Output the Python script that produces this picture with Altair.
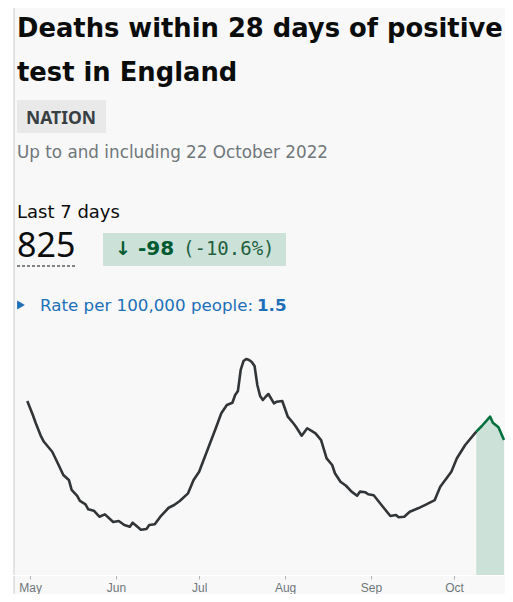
import altair as alt
import pandas as pd

# ---------------- data ----------------
dates = [
    "2022-04-30", "2022-05-02", "2022-05-03", "2022-05-05", "2022-05-06", "2022-05-09",
    "2022-05-11", "2022-05-13", "2022-05-15", "2022-05-16", "2022-05-18", "2022-05-19",
    "2022-05-21", "2022-05-22", "2022-05-24", "2022-05-26", "2022-05-28", "2022-05-31",
    "2022-06-02", "2022-06-04", "2022-06-06", "2022-06-07", "2022-06-08", "2022-06-10",
    "2022-06-12", "2022-06-13", "2022-06-15", "2022-06-17", "2022-06-20", "2022-06-22",
    "2022-06-24", "2022-06-27", "2022-06-29", "2022-07-01", "2022-07-04", "2022-07-07",
    "2022-07-09", "2022-07-11", "2022-07-13", "2022-07-14", "2022-07-15", "2022-07-16",
    "2022-07-17", "2022-07-18", "2022-07-19", "2022-07-20", "2022-07-21", "2022-07-22",
    "2022-07-23", "2022-07-24", "2022-07-25", "2022-07-26", "2022-07-28", "2022-07-29",
    "2022-07-31", "2022-08-02", "2022-08-04", "2022-08-05", "2022-08-07", "2022-08-09",
    "2022-08-11", "2022-08-12", "2022-08-14", "2022-08-16", "2022-08-18", "2022-08-19",
    "2022-08-21", "2022-08-23", "2022-08-25", "2022-08-27", "2022-08-28", "2022-08-30",
    "2022-08-31", "2022-09-02", "2022-09-05", "2022-09-08", "2022-09-10", "2022-09-11",
    "2022-09-13", "2022-09-15", "2022-09-18", "2022-09-21", "2022-09-24", "2022-09-26",
    "2022-09-30", "2022-10-02", "2022-10-05", "2022-10-09", "2022-10-11", "2022-10-14",
    "2022-10-15", "2022-10-17", "2022-10-19",
]
deaths = [
    153.4, 141.1, 134.3, 122.0, 117.5, 108.7,
    98.5, 88.2, 83.8, 75.0, 69.7, 65.3,
    62.3, 57.9, 56.7, 51.4, 53.5, 46.7,
    47.6, 44.1, 42.6, 46.1, 44.1, 39.9,
    40.6, 44.1, 44.7, 51.4, 59.3, 61.7,
    65.3, 72.0, 83.8, 91.1, 110.2, 129.4,
    142.6, 149.9, 151.9, 158.7, 162.3, 180.8,
    188.7, 190.5, 189.6, 187.8, 184.3, 167.5,
    157.8, 154.3, 157.2, 159.6, 151.4, 152.8,
    153.4, 139.6, 133.8, 130.5, 122.8, 129.4,
    126.4, 124.9, 119.0, 102.9, 97.0, 89.7,
    82.3, 78.7, 73.5, 69.9, 73.5, 72.9,
    71.2, 70.3, 61.1, 52.0, 52.9, 50.9,
    51.4, 55.8, 58.8, 62.3, 66.1, 77.9,
    91.1, 102.9, 114.6, 126.4, 131.4, 139.6,
    134.3, 130.2, 119.0,
]
recent_start = "2022-10-09"

month_ticks = [5, 6, 7, 8, 9, 10]

title_lines = ["Deaths within 28 days of positive", "test in England"]
badge_text = ["NATION"]
subtitle_text = ["Up to and including 22 October 2022"]
period_text = ["Last 7 days"]
total_text = ["825"]
change_arrow = ["\u2193"]
change_value = ["-98"]
change_pct = ["(-10.6%)"]
rate_label = ["Rate per 100,000 people:"]
rate_value = ["1.5"]

# ---------------- build ----------------
df = pd.DataFrame({"date": dates, "deaths": deaths})
df_main = df[df["date"] <= recent_start]
df_recent = df[df["date"] >= recent_start]

W, H = 497, 567
TOTAL_H = 586
NOTO = "Noto Sans"
DJV = "DejaVu Sans"


def one(text):
    return pd.DataFrame({"t": text})


def txt(text, x, y, size, color, weight="normal", font=NOTO, align="left"):
    return alt.Chart(one(text)).mark_text(
        align=align, baseline="alphabetic", fontSize=size, font=font,
        fontWeight=weight, color=color
    ).encode(text="t:N", x=alt.value(x), y=alt.value(y))


def box(x, x2, y, y2, color):
    return alt.Chart(one([""])).mark_rect(color=color).encode(
        x=alt.value(x), x2=alt.value(x2), y=alt.value(y), y2=alt.value(y2)
    )


card = box(6, W, 0, TOTAL_H, "#f8f8f8")
card_border = alt.Chart(one([""])).mark_rule(color="#dcdcdc", strokeWidth=1.5).encode(
    x=alt.value(6), y=alt.value(0), y2=alt.value(TOTAL_H)
)

title1 = txt(title_lines[:1], 9, 29, 25.8, "#0b0c0c", "bold", DJV)
title2 = txt(title_lines[1:], 9, 73, 25.8, "#0b0c0c", "bold", DJV)
badge_bg = box(9, 98, 92, 125, "#e9e9e9")
badge = txt(badge_text, 18, 116, 17.5, "#383f43", "bold")
subtitle = txt(subtitle_text, 9, 150, 16.8, "#6f777b", "normal", DJV)
period = txt(period_text, 9, 210, 18, "#0b0c0c", "normal", DJV)
total = txt(total_text, 9, 249, 34, "#0b0c0c")
underline = alt.Chart(one([""])).mark_rule(color="#0b0c0c", strokeWidth=1, strokeDash=[3, 2]).encode(
    x=alt.value(9), x2=alt.value(69), y=alt.value(258)
)
change_bg = box(95, 278, 225, 258, "#cce2d8")
arrow = txt(change_arrow, 107, 247, 19, "#005a30", "bold", DJV)
chg = txt(change_value, 130, 247, 20, "#005a30", "bold", DJV)
pct = txt(change_pct, 175, 247, 19, "#1f6040", "normal", "DejaVu Sans Mono")
tri = alt.Chart(one([""])).mark_point(shape="triangle-right", filled=True, size=80,
                                       color="#1d70b8", opacity=1).encode(
    x=alt.value(13), y=alt.value(297)
)
rate1 = txt(rate_label, 32, 303, 16.7, "#1d70b8", "normal", DJV)
rate2 = txt(rate_value, 249, 303, 16.7, "#1d70b8", "bold", DJV)

x_enc = alt.X(
    "date:T",
    title=None,
    scale=alt.Scale(
        type="utc",
        domain=[
            alt.DateTime(year=2022, month=4, date=23, hours=0, minutes=55, utc=True),
            alt.DateTime(year=2022, month=10, date=19, hours=8, minutes=40, utc=True),
        ],
        nice=False,
    ),
    axis=alt.Axis(
        values=[alt.DateTime(year=2022, month=m, date=1, utc=True) for m in month_ticks],
        format="%b",
        grid=False,
        labelFont="Liberation Sans",
        labelFontSize=12,
        labelColor="#6f777b",
        labelPadding=3,
        tickColor="#b1b4b6",
        tickSize=4,
        domainColor="#ffffff",
        zindex=1,
    ),
)
y_enc = alt.Y("deaths:Q", axis=None, scale=alt.Scale(domain=[0, 500], nice=False))

area = alt.Chart(df_recent).mark_area(color="#cce2d8", opacity=1).encode(x=x_enc, y=y_enc)
line_main = alt.Chart(df_main).mark_line(color="#323537", strokeWidth=2.6,
                                         strokeJoin="round").encode(x=x_enc, y=y_enc)
line_recent = alt.Chart(df_recent).mark_line(color="#00703c", strokeWidth=2.6,
                                             strokeJoin="round").encode(x=x_enc, y=y_enc)

chart = alt.layer(
    card, card_border, title1, title2, badge_bg, badge, subtitle, period, total,
    underline, change_bg, arrow, chg, pct, tri, rate1, rate2,
    area, line_main, line_recent,
).properties(
    width=W, height=H,
    autosize=alt.AutoSizeParams(type="none"),
    padding={"left": 0, "top": 0, "right": 0, "bottom": TOTAL_H - H},
    background="#ffffff",
).configure_view(strokeWidth=0)

chart.save("out.html", embed_options={"renderer": "svg", "actions": False})
